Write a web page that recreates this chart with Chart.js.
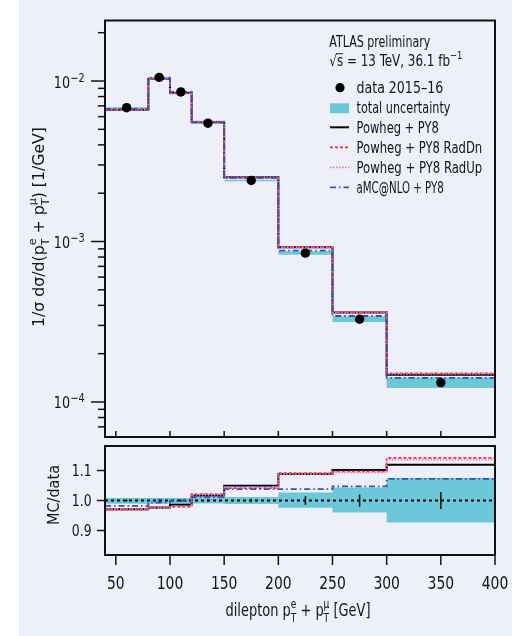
<!DOCTYPE html>
<html><head><meta charset="utf-8">
<script src="https://cdn.jsdelivr.net/npm/chart.js@4.4.1/dist/chart.umd.min.js"></script>
<style>
html,body{margin:0;padding:0;background:#fff;width:512px;height:636px;overflow:hidden}
#bg{position:absolute;left:19px;top:0;width:493px;height:636px;background:#eef0f9}
canvas{position:absolute;left:0}
#top{top:0}
#bot{top:440px}
</style></head><body>
<div id="bg"></div>
<canvas id="top" width="512" height="446"></canvas>
<canvas id="bot" width="512" height="196"></canvas>
<script>
// ---------- data ----------
const binEdges   = [40, 80, 100, 120, 150, 200, 250, 300, 400];
const binCenters = [60, 90, 110, 135, 175, 225, 275, 350];
const dataValues = [6.82e-3, 1.054e-2, 8.55e-3, 5.46e-3, 2.40e-3, 8.46e-4, 3.28e-4, 1.32e-4];
const dataRelErr = [0.003, 0.003, 0.003, 0.004, 0.006, 0.014, 0.02, 0.028];
const uncUp      = [0.008, 0.008, 0.008, 0.011, 0.012, 0.027, 0.043, 0.075];
const uncDn      = [0.011, 0.011, 0.011, 0.010, 0.012, 0.024, 0.040, 0.073];
const ratioPowheg = [0.971, 0.977, 0.986, 1.017, 1.049, 1.088, 1.102, 1.119];
const ratioRadDn  = [0.970, 0.977, 0.979, 1.021, 1.041, 1.091, 1.097, 1.142];
const ratioRadUp  = [0.972, 0.978, 0.981, 1.019, 1.045, 1.088, 1.094, 1.136];
const ratioAMC    = [0.982, 0.993, 0.999, 1.011, 1.038, 1.038, 1.047, 1.072];
const xTicks = [50, 100, 150, 200, 250, 300, 350, 400];
const ratioTicks = [0.9, 1.0, 1.1];
const logDecades = [-5, -4, -3, -2, -1];

// ---------- styles ----------
const CYAN = '#6cc7d8';
const FONT = '"DejaVu Sans Condensed", "DejaVu Sans", sans-serif';
const SX = 0.86;
const INK = '#141414';

function stepPts(vals){ return binEdges.map((e,i)=>({x:e, y:vals[Math.min(i, vals.length-1)]})); }
function f(sz){ return sz + 'px ' + FONT; }

function measureParts(ctx, parts, size){
  let w = 0;
  for (const p of parts){
    if (p.t !== undefined){ ctx.font = f(size); w += ctx.measureText(p.t).width; }
    else { ctx.font = f(size*0.7);
      w += Math.max(p.sup ? ctx.measureText(p.sup).width : 0, p.sub ? ctx.measureText(p.sub).width : 0); }
  }
  return w;
}
function drawParts(ctx, parts, x, y, size, align, targetW){
  const nat = measureParts(ctx, parts, size);
  const sx = targetW ? targetW/nat : SX;
  const W = nat*sx;
  const x0 = align === 'center' ? x - W/2 : (align === 'right' ? x - W : x);
  ctx.save();
  ctx.translate(x0, y); ctx.scale(sx, 1);
  ctx.textBaseline = 'alphabetic'; ctx.textAlign = 'left'; ctx.fillStyle = INK;
  let cx = 0;
  for (const p of parts){
    if (p.t !== undefined){
      ctx.font = f(size); ctx.fillText(p.t, cx, 0);
      const w = ctx.measureText(p.t).width;
      if (p.over){ ctx.strokeStyle = INK; ctx.lineWidth = 1; ctx.beginPath(); ctx.moveTo(cx-1, -size*0.82); ctx.lineTo(cx+w, -size*0.82); ctx.stroke(); }
      cx += w;
    } else {
      ctx.font = f(size*0.7);
      if (p.sup) ctx.fillText(p.sup, cx, -size*0.48);
      if (p.sub) ctx.fillText(p.sub, cx, size*0.33);
      cx += Math.max(p.sup ? ctx.measureText(p.sup).width : 0, p.sub ? ctx.measureText(p.sub).width : 0);
    }
  }
  ctx.restore();
}
function tickText(ctx, s, x, y, size, align){
  ctx.save(); ctx.fillStyle = INK; ctx.font = f(size); ctx.textAlign = align; ctx.textBaseline = 'alphabetic';
  ctx.translate(x, y); ctx.scale(SX, 1); ctx.fillText(s, 0, 0); ctx.restore();
}
function line(ctx, x1, y1, x2, y2){ ctx.beginPath(); ctx.moveTo(x1, y1); ctx.lineTo(x2, y2); ctx.stroke(); }

const mcSeries = [
  {label:'Powheg + PY8',       ratio:ratioPowheg, color:'#000000', dash:[],            width:2.0},
  {label:'Powheg + PY8 RadDn', ratio:ratioRadDn,  color:'#ff2b2b', dash:[3,2],         width:1.8},
  {label:'Powheg + PY8 RadUp', ratio:ratioRadUp,  color:'#d57ccf', dash:[1.5,1.5],     width:1.8},
  {label:'aMC@NLO + PY8',      ratio:ratioAMC,    color:'#3551b3', dash:[6,3,1.5,3],   width:1.8},
];

// ---------- top panel ----------
const topDeco = {
  id:'topDeco',
  afterDraw(chart){
    const {ctx, chartArea:a, scales:{x, y}} = chart;
    ctx.save();
    ctx.strokeStyle = INK; ctx.lineWidth = 1.5; ctx.setLineDash([]);
    for (const e of logDecades){
      for (let m = 1; m <= 9; m++){
        const v = m*Math.pow(10, e);
        if (v < y.min || v > y.max) continue;
        const py = y.getPixelForValue(v);
        line(ctx, a.left - (m === 1 ? 14 : 7), py, a.left, py);
        if (m === 1){
          tickText(ctx, '10', 70, py + 6.5, 16.5, 'right');
          tickText(ctx, '\u2212' + (-e), 70.5, py + 0.5, 12.5, 'left');
        }
      }
    }
    for (const t of xTicks){ const px = x.getPixelForValue(t); line(ctx, px, a.bottom, px, a.bottom - 6); }
    ctx.lineWidth = 2; ctx.strokeStyle = '#111';
    ctx.strokeRect(a.left, a.top, a.right - a.left, a.bottom - a.top);
    // legend
    drawParts(ctx, [{t:'ATLAS preliminary'}], 329.3, 46.7, 15, 'left', 101);
    drawParts(ctx, [{t:'\u221A'},{t:'s', over:true},{t:' = 13 TeV, 36.1 fb'},{sup:'\u22121'}], 329.3, 66, 15, 'left', 133);
    const lx1 = 330, lx2 = 349, tx = 356.5;
    const texts = ['data 2015\u201316','total uncertainty'].concat(mcSeries.map(s=>s.label));
    const widths = [86.7, 94, 82.3, 125.7, 125.7, 87.3];
    texts.forEach((t,i)=>{ drawParts(ctx, [{t:t}], tx, 92.7 + 20*i, 15, 'left', widths[i]); });
    ctx.fillStyle = '#000'; ctx.beginPath(); ctx.arc(340, 87.7, 4.6, 0, Math.PI*2); ctx.fill();
    ctx.fillStyle = CYAN; ctx.fillRect(lx1, 103.3, lx2 - lx1, 10);
    mcSeries.forEach((s,i)=>{
      ctx.strokeStyle = s.color; ctx.lineWidth = s.width; ctx.setLineDash(s.dash);
      line(ctx, lx1, 127.3 + 20*i, lx2, 127.3 + 20*i);
    });
    ctx.setLineDash([]);
    // y title
    ctx.save(); ctx.translate(44, 227); ctx.rotate(-Math.PI/2);
    drawParts(ctx, [{t:'1/\u03C3 d\u03C3/d(p'},{sup:'e', sub:'T'},{t:' + p'},{sup:'\u03BC', sub:'T'},{t:') [1/GeV]'}], 0, 0, 16, 'center', 200);
    ctx.restore();
    ctx.restore();
  }
};

const topDatasets = [
  {data: stepPts(dataValues.map((v,i)=>v*(1-uncDn[i]))), stepped:'before', borderWidth:0, pointRadius:0, fill:false, order:20},
  {data: stepPts(dataValues.map((v,i)=>v*(1+uncUp[i]))), stepped:'before', borderWidth:0, pointRadius:0, fill:'-1', backgroundColor:CYAN, order:19},
];
mcSeries.forEach((s,i)=>{
  topDatasets.push({data: stepPts(dataValues.map((v,k)=>v*s.ratio[k])), stepped:'before', borderColor:s.color, borderWidth:s.width,
    borderDash:s.dash, pointRadius:0, fill:false, order:10 - i});
});
topDatasets.push({data: binCenters.map((c,i)=>({x:c, y:dataValues[i]})), showLine:false, pointRadius:4.7,
  pointBackgroundColor:'#000', pointBorderWidth:0, order:1});

new Chart(document.getElementById('top'), {
  type:'line',
  data:{datasets: topDatasets},
  options:{
    responsive:false, animation:false, devicePixelRatio:1, events:[],
    layout:{padding:{left:105, right:17, top:20.5, bottom:9}},
    scales:{
      x:{type:'linear', min:40, max:400, display:false},
      y:{type:'logarithmic', min:6.05e-5, max:2.383e-2, display:false}
    },
    plugins:{legend:{display:false}, tooltip:{enabled:false}}
  },
  plugins:[topDeco]
});

// ---------- ratio panel ----------
const botDeco = {
  id:'botDeco',
  afterDraw(chart){
    const {ctx, chartArea:a, scales:{x, y}} = chart;
    ctx.save();
    ctx.strokeStyle = INK; ctx.lineWidth = 1.5; ctx.setLineDash([]);
    for (const t of ratioTicks){
      const py = y.getPixelForValue(t);
      line(ctx, a.left - 8, py, a.left, py);
      tickText(ctx, t.toFixed(1), 91.5, py + 5.8, 16, 'right');
    }
    for (const t of xTicks){
      const px = x.getPixelForValue(t);
      line(ctx, px, a.bottom, px, a.bottom + 10);
      tickText(ctx, String(t), px, 149, 18, 'center');
    }
    ctx.lineWidth = 2; ctx.strokeStyle = '#111';
    ctx.strokeRect(a.left, a.top, a.right - a.left, a.bottom - a.top);
    ctx.save(); ctx.translate(58.5, 55); ctx.rotate(-Math.PI/2);
    drawParts(ctx, [{t:'MC/data'}], 0, 0, 16, 'center', 60);
    ctx.restore();
    drawParts(ctx, [{t:'dilepton p'},{sup:'e', sub:'T'},{t:' + p'},{sup:'\u03BC', sub:'T'},{t:' [GeV]'}], 298, 176, 17, 'center', 145);
    ctx.restore();
  }
};

const botDatasets = [
  {data: stepPts(uncDn.map(u=>1-u)), stepped:'before', borderWidth:0, pointRadius:0, fill:false, order:20},
  {data: stepPts(uncUp.map(u=>1+u)), stepped:'before', borderWidth:0, pointRadius:0, fill:'-1', backgroundColor:CYAN, order:19},
  {data: [{x:40, y:1}, {x:400, y:1}], borderColor:'#000', borderWidth:2, borderDash:[3,3], pointRadius:0, fill:false, order:15},
];
const errPts = [];
binCenters.forEach((c,i)=>{ errPts.push({x:c, y:1-dataRelErr[i]}, {x:c, y:1+dataRelErr[i]}, {x:c, y:null}); });
botDatasets.push({data: errPts, borderColor:'#000', borderWidth:1.5, pointRadius:0, fill:false, spanGaps:false, order:14});
mcSeries.forEach((s,i)=>{
  botDatasets.push({data: stepPts(s.ratio), stepped:'before', borderColor:s.color, borderWidth:s.width,
    borderDash:s.dash, pointRadius:0, fill:false, order:10 - i});
});

new Chart(document.getElementById('bot'), {
  type:'line',
  data:{datasets: botDatasets},
  options:{
    responsive:false, animation:false, devicePixelRatio:1, events:[],
    layout:{padding:{left:105, right:17, top:6, bottom:81}},
    scales:{
      x:{type:'linear', min:40, max:400, display:false},
      y:{type:'linear', min:0.8183, max:1.1817, display:false}
    },
    plugins:{legend:{display:false}, tooltip:{enabled:false}}
  },
  plugins:[botDeco]
});
</script>
</body></html>
